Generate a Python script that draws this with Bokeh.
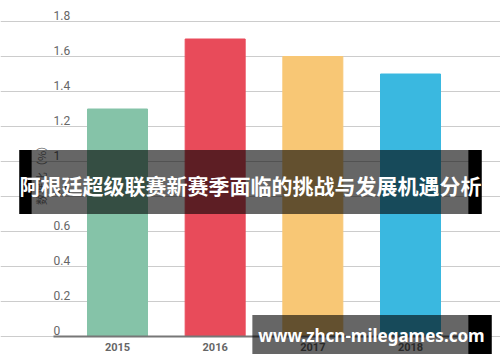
import math
from bokeh.plotting import figure
from bokeh.models import ColumnDataSource, FixedTicker, Label, Range1d
from bokeh.core.properties import value
from bokeh.embed import file_html
from bokeh.resources import INLINE

years = ["2015", "2016", "2017", "2018"]
values = [1.3, 1.7, 1.6, 1.5]
colors = ["#85C3A8", "#E84B5A", "#F8C775", "#3AB8E0"]
y_ticks = [0, 0.2, 0.4, 0.6, 0.8, 1.0, 1.2, 1.4, 1.6, 1.8]
y_tick_labels = ["0", "0.2", "0.4", "0.6", "0.8", "1", "1.2", "1.4", "1.6", "1.8"]
y_label = "数据比（%）"
title = "阿根廷超级联赛新赛季面临的挑战与发展机遇分析"
watermark = "www.zhcn-milegames.com"

xs = list(range(len(years)))
W, H = 500, 362
PX_X = 97.67   # px per category
PX_Y = 175.0   # px per unit
X0, Y0 = 117, 336  # canvas px of first category / zero line
x_lo, x_hi = (53 - X0) / PX_X, (459 - X0) / PX_X

p = figure(width=W, height=H, output_backend="svg", toolbar_location=None,
           x_range=Range1d(-X0 / PX_X, (W - X0) / PX_X),
           y_range=Range1d((Y0 - H) / PX_Y, Y0 / PX_Y),
           min_border=0)
p.outline_line_color = None
p.background_fill_color = "white"
p.border_fill_color = "white"
p.yaxis.visible = False
p.xgrid.grid_line_color = None

p.ygrid.ticker = FixedTicker(ticks=y_ticks)
p.ygrid.bounds = (x_lo, x_hi)
p.ygrid.grid_line_color = "#CCCCCC"
p.ygrid.grid_line_width = 1.2

src = ColumnDataSource(dict(x=xs, top=values, color=colors))
p.vbar(x="x", top="top", width=60 / PX_X, color="color", source=src)

# x axis drawn at y=0 inside the frame
xa = p.xaxis[0]
xa.fixed_location = 0
xa.bounds = (x_lo, x_hi)
xa.ticker = FixedTicker(ticks=xs)
xa.major_label_overrides = {i: y for i, y in enumerate(years)}
xa.major_tick_line_color = None
xa.minor_tick_line_color = None
xa.axis_line_color = "#777777"
xa.axis_line_width = 2
xa.major_label_text_font = "Roboto"
xa.major_label_text_font_size = "11px"
xa.major_label_text_font_style = "bold"
xa.major_label_text_color = "#666666"
xa.major_label_standoff = 0

# y tick labels above grid lines
p.text(x=[x_lo] * len(y_ticks), y=y_ticks, text=y_tick_labels,
       text_font=value("Roboto"), text_font_size="12px", text_color="#666666",
       text_baseline="bottom", text_align="left", y_offset=-2)

# y axis title
p.add_layout(Label(x=40, y=H - 172, x_units="screen", y_units="screen", text=y_label,
                   angle=math.pi / 2, text_align="center", text_baseline="middle",
                   text_font="Noto Sans CJK SC", text_font_size="11px", text_color="#777777"))


def box(cx, cy, w, h, alpha):
    p.add_layout(Label(x=cx, y=H - cy, x_units="screen", y_units="screen", text=" ",
                       text_font_size="1px", text_align="center", text_baseline="middle",
                       padding=dict(left=w // 2, right=w - w // 2, top=h // 2, bottom=h - h // 2),
                       background_fill_color="black", background_fill_alpha=alpha))


# title band
box(250, 181.5, 462, 63, 0.6)
box(25, 181.5, 12, 63, 1.0)
box(474.5, 181.5, 13, 63, 1.0)
p.add_layout(Label(x=250, y=H - 184, x_units="screen", y_units="screen", text=title,
                   text_align="center", text_baseline="middle", text_font="Noto Sans CJK SC",
                   text_font_size="21px", text_font_style="bold", text_color="white"))

# watermark band
box(371.5, 334, 239, 38, 0.6)
box(479.5, 334, 23, 38, 1.0)
p.add_layout(Label(x=371, y=H - 335, x_units="screen", y_units="screen", text=watermark,
                   text_align="center", text_baseline="middle", text_font="Noto Sans",
                   text_font_size="17px", text_font_style="bold", text_color="white"))

out = file_html(p, INLINE)
open("out.html", "w").write(out)
